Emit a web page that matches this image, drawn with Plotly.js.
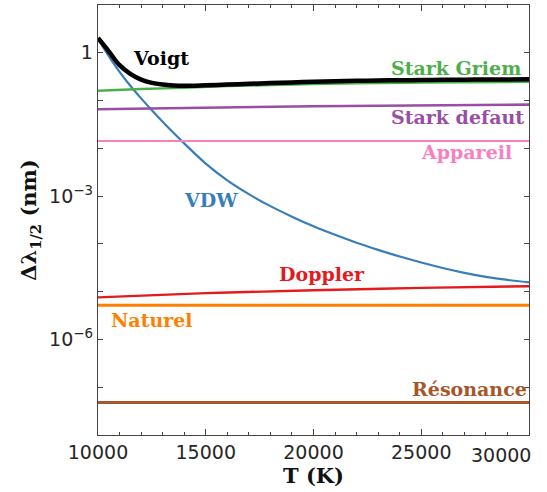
<!DOCTYPE html>
<html>
<head>
<meta charset="utf-8">
<script src="https://cdn.plot.ly/plotly-3.0.1.min.js"></script>
<style>html,body{margin:0;padding:0;background:#fff;}#chart{width:547px;height:492px;}</style>
</head>
<body>
<div id="chart"></div>
<script>
// Temperature grids (K)
const T_curve = [10000,10500,11000,11500,12000,12500,13000,13500,14000,15000,16000,17000,18000,19000,20000,21000,22000,23000,24000,25000,26000,27000,28000,29000,30000];
const vdw = [1.95,0.851,0.398,0.204,0.111,0.0624,0.0359,0.0211,0.0127,0.00479,0.00214,0.0011,6.17e-4,3.72e-4,2.34e-4,1.55e-4,1.06e-4,7.5e-5,5.43e-5,4.07e-5,3.13e-5,2.48e-5,2.04e-5,1.76e-5,1.57e-5];
const voigt = [2.04,1.07,0.55,0.363,0.275,0.234,0.216,0.207,0.204,0.209,0.216,0.224,0.232,0.240,0.248,0.254,0.259,0.263,0.266,0.269,0.272,0.274,0.276,0.277,0.279];

const T_griem = [10000,12000,14000,16000,18000,20000,22000,25000,30000];
const starkGriem = [0.160,0.174,0.186,0.200,0.211,0.221,0.229,0.237,0.247];

const T_defaut = [10000,20000,30000];
const starkDefaut = [0.066,0.076,0.082];

const T_doppler = [10000,15000,20000,25000,30000];
const doppler = [7.6e-6,9.3e-6,1.07e-5,1.2e-5,1.3e-5];

const T_flat = [10000,30000];
const appareil = [0.0143,0.0143];
const naturel = [5.2e-6,5.2e-6];
const resonance = [4.8e-8,4.8e-8];

const xTickVals = [10000,15000,20000,25000,30000];
const xTickText = ['10000','15000','20000','25000','30000'];
const yTickVals = [1e-7,1e-6,1e-5,1e-4,1e-3,1e-2,1e-1,1];
const yTickText = ['','10<sup>−6</sup>','','','10<sup>−3</sup>','','','1'];

const C = {vdw:'#377eb8', griem:'#4daf4a', defaut:'#984ea3', app:'#f781bf', dop:'#e41a1c', nat:'#ff7f00', res:'#a65628', voigt:'#000000'};

function line(x,y,color,w){return {x:x,y:y,type:'scatter',mode:'lines',line:{color:color,width:w,shape:'spline',smoothing:1},hoverinfo:'skip',showlegend:false};}

const data = [
  line(T_curve, vdw, C.vdw, 2.2),
  line(T_griem, starkGriem, C.griem, 2.4),
  line(T_defaut, starkDefaut, C.defaut, 2.6),
  line(T_flat, appareil, C.app, 2),
  line(T_doppler, doppler, C.dop, 2.4),
  line(T_flat, naturel, C.nat, 3),
  line(T_flat, resonance, C.res, 3),
  line(T_curve, voigt, C.voigt, 4.5)
];

const lblFont = (c)=>({family:'DejaVu Serif', size:19, color:c});
function lbl(text,x,y,c){return {text:'<b>'+text+'</b>',xref:'paper',yref:'paper',x:x,y:y,xanchor:'center',yanchor:'middle',showarrow:false,font:lblFont(c)};}

const annotations = [
  lbl('Voigt',0.146,0.877,C.voigt),
  lbl('Stark Griem',0.831,0.853,C.griem),
  lbl('Stark defaut',0.835,0.740,C.defaut),
  lbl('Appareil',0.854,0.658,C.app),
  lbl('VDW',0.262,0.547,C.vdw),
  lbl('Doppler',0.520,0.374,C.dop),
  lbl('Naturel',0.125,0.267,C.nat),
  lbl('Résonance',0.863,0.107,C.res),
  {text:xTickText[4],xref:'x',yref:'paper',x:xTickVals[4],y:0,xanchor:'right',yanchor:'top',xshift:4,yshift:-7,showarrow:false,font:{family:'DejaVu Sans',size:19,color:'#262626'}}
];

const tickFont = {family:'DejaVu Sans', size:19, color:'#262626'};
const layout = {
  width:547, height:492,
  margin:{l:98,r:18,t:5,b:57},
  paper_bgcolor:'#fff', plot_bgcolor:'#fff',
  showlegend:false,
  xaxis:{
    range:[10000,30000], tickmode:'array', tickvals:xTickVals.slice(0,4), ticktext:xTickText.slice(0,4),
    ticks:'inside', ticklen:6, tickwidth:1, tickcolor:'#444',
    minor:{ticks:'inside', ticklen:3, tick0:10000, dtick:1000, tickcolor:'#444', tickwidth:1, showgrid:false},
    showline:true, linecolor:'#444', linewidth:1.3, mirror:'allticks',
    showgrid:false, zeroline:false, tickfont:tickFont,
    title:{text:'<b>T (K)</b>', font:{family:'DejaVu Serif', size:21, color:'#111'}, standoff:4}
  },
  yaxis:{
    type:'log', range:[-8,1], tickmode:'array', tickvals:yTickVals, ticktext:yTickText,
    ticks:'inside', ticklen:5, tickwidth:1, tickcolor:'#444',
    showline:true, linecolor:'#444', linewidth:1.3, mirror:'allticks',
    showgrid:false, zeroline:false, tickfont:tickFont,
    title:{text:'<b>Δλ<sub>1/2</sub> (nm)</b>', font:{family:'DejaVu Serif', size:21, color:'#111'}, standoff:6}
  },
  annotations:annotations
};

Plotly.newPlot('chart', data, layout, {staticPlot:true, displayModeBar:false});
</script>
</body>
</html>
